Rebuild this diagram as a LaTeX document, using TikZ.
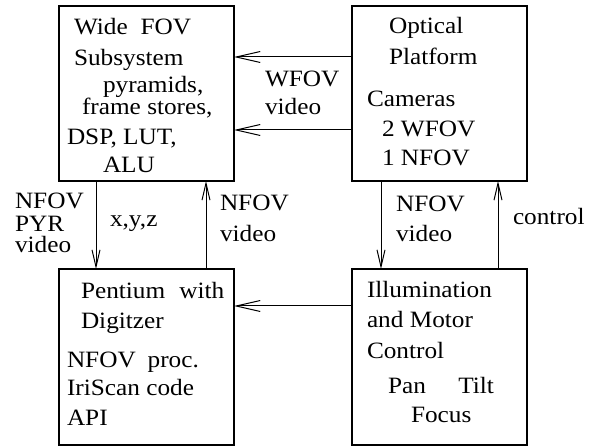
\documentclass[tikz,border=0pt]{standalone}
\usepackage{fontspec}
\setmainfont{Liberation Serif}
\usetikzlibrary{arrows.meta}
\begin{document}
\begin{tikzpicture}[x=1pt,y=-1pt,
  box/.style={draw, line width=1.2pt, rectangle, minimum width=175pt, minimum height=175pt, inner sep=0pt, outer sep=0pt, anchor=north west},
  lbl/.style={anchor=base west, inner sep=0pt, outer sep=0pt, xscale=1.08, transform shape, font=\fontsize{23.4pt}{28pt}\selectfont},
  harr/.style={line width=1pt, -{Straight Barb[length=24pt,width=11pt,line width=1pt]}},
  varr/.style={line width=1pt, -{Straight Barb[length=17pt,width=8pt,line width=1pt]}}]
\useasboundingbox (0,0) rectangle (589,446);
% boxes
\node[box] (wfov) at (59,6) {};
\node[box] (opt) at (352,6) {};
\node[box, minimum height=176pt] (pen) at (59,269) {};
\node[box, minimum height=176pt] (ill) at (352,269) {};
% WFOV box text
\node[lbl] (t1) at (74,35) {Wide\hspace{12pt}FOV};
\node[lbl] (t2) at (74,66) {Subsystem};
\node[lbl] (t3) at (103,93) {pyramids,};
\node[lbl] (t4) at (82,115) {frame stores,};
\node[lbl] (t5) at (67,145) {DSP, LUT,};
\node[lbl] (t6) at (103,173) {ALU};
% Optical box text
\node[lbl] (o1) at (389,34) {Optical};
\node[lbl] (o2) at (389,65) {Platform};
\node[lbl] (o3) at (367,107) {Cameras};
\node[lbl] (o4) at (382,137) {2 WFOV};
\node[lbl] (o5) at (382,166) {1 NFOV};
% Pentium box text
\node[lbl] (p1) at (81,299) {Pentium\hspace{13pt}with};
\node[lbl] (p2) at (81,328) {Digitzer};
\node[lbl] (p3) at (67,367) {NFOV\hspace{11pt}proc.};
\node[lbl] (p4) at (67,395) {IriScan code};
\node[lbl] (p5) at (67,425) {API};
% Illumination box text
\node[lbl] (i1) at (367,298) {Illumination};
\node[lbl] (i2) at (367,327) {and Motor};
\node[lbl] (i3) at (367,358) {Control};
\node[lbl] (i4) at (388,393) {Pan\hspace{30pt}Tilt};
\node[lbl] (i5) at (411,422) {Focus};
% connector labels
\node[lbl] (l1) at (265,87) {WFOV};
\node[lbl] (l2) at (265,115) {video};
\node[lbl] (l3) at (15,209) {NFOV};
\node[lbl] (l4) at (15,232) {PYR};
\node[lbl] (l5) at (15,253) {video};
\node[lbl] (l6) at (110,227) {x,y,z};
\node[lbl] (l7) at (220,211) {NFOV};
\node[lbl] (l8) at (220,242) {video};
\node[lbl] (l9) at (396,212) {NFOV};
\node[lbl] (l10) at (396,242) {video};
\node[lbl] (l11) at (513,225) {control};
% connectors
\draw[harr] ([yshift=-51pt]opt.north west) -- ([yshift=-51pt]wfov.north east);
\draw[harr] ([yshift=-124pt]opt.north west) -- ([yshift=-124pt]wfov.north east);
\draw[harr] ([yshift=-37pt]ill.north west) -- ([yshift=-37pt]pen.north east);
\draw[varr] ([xshift=37pt]wfov.south west) -- ([xshift=37pt]pen.north west);
\draw[varr] ([xshift=147pt]pen.north west) -- ([xshift=147pt]wfov.south west);
\draw[varr] ([xshift=29pt]opt.south west) -- ([xshift=29pt]ill.north west);
\draw[varr] ([xshift=146pt]ill.north west) -- ([xshift=146pt]opt.south west);
\end{tikzpicture}
\end{document}
